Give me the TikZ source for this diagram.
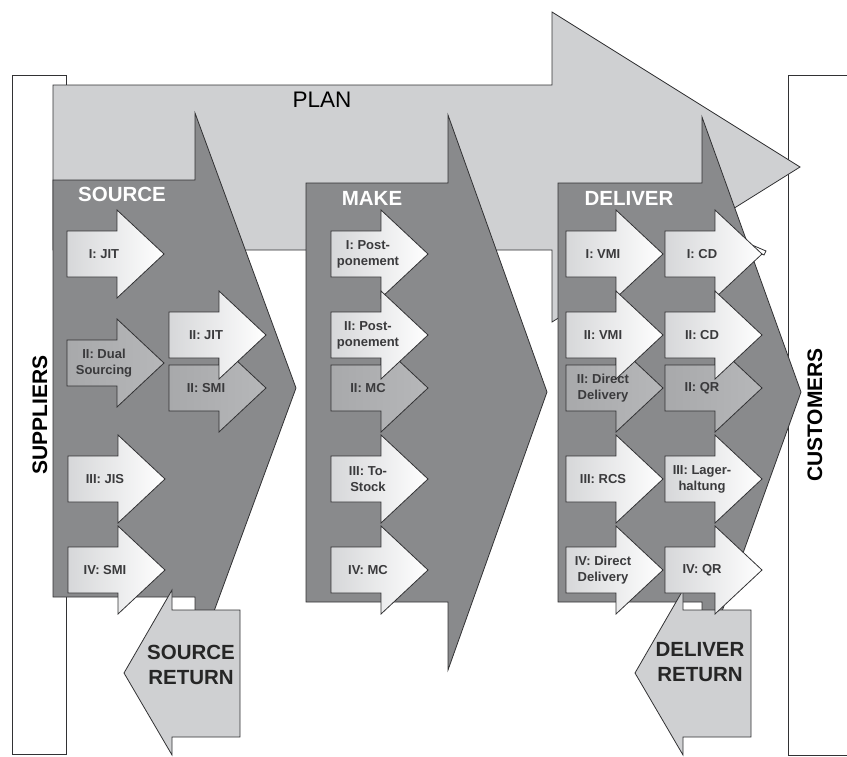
\documentclass[tikz,border=0pt]{standalone}
\usepackage{fontspec}
\setmainfont{Liberation Sans}
\usetikzlibrary{calc}

\definecolor{planfill}{RGB}{207,208,210}
\definecolor{procfill}{RGB}{137,138,140}
\definecolor{midfill}{RGB}{168,169,171}
\definecolor{midfillb}{RGB}{182,183,185}
\definecolor{lightfill}{RGB}{214,215,217}
\definecolor{edge}{RGB}{50,50,52}
\definecolor{labelcol}{RGB}{58,58,60}

\tikzset{
  outline/.style={draw=edge, line width=0.8pt, line join=miter},
  framebox/.style={draw=edge, line width=0.8pt, fill=white},
  planshape/.style={outline, fill=planfill},
  procshape/.style={outline, fill=procfill},
  returnshape/.style={outline, fill=planfill},
  whitearrow/.style={outline, left color=lightfill, right color=white},
  greyarrow/.style={outline, left color=midfill, right color=midfillb},
  arrowlabel/.style={font=\fontsize{13}{16}\selectfont\bfseries, text=labelcol, align=center, inner sep=0pt},
  proctitle/.style={font=\fontsize{20.5}{24}\selectfont\bfseries, text=white, inner sep=0pt},
  sidetitle/.style={font=\fontsize{21}{24}\selectfont\bfseries, text=black, rotate=90, inner sep=0pt},
  returntitle/.style={font=\fontsize{20.5}{25}\selectfont\bfseries, text=black!85, align=center, inner sep=0pt},
}

% Block arrow pointing right: #1 name, #2 left x, #3 centre y, #4 style, #5 label
\newcommand{\blockArrow}[5]{%
  \path[#4] (#2,#3-23) -- ++(50,0) -- ++(0,-21) -- (#2+97,#3) -- (#2+50,#3+44)
    -- ++(0,-21) -- (#2,#3+23) -- cycle;
  \node[arrowlabel] (#1) at (#2+37,#3) {#5};
}

% Return arrow pointing left: #1 name, #2 right x, #3 centre y
\newcommand{\returnArrow}[3]{%
  \path[returnshape] (#2,#3-63) -- (#2,#3+64) -- (#2-68,#3+64) -- (#2-68,#3+82)
    -- (#2-116,#3) -- (#2-68,#3-83) -- (#2-68,#3-63) -- cycle;
}

\begin{document}
\begin{tikzpicture}[x=1pt, y=-1pt]
\useasboundingbox (0,0) rectangle (847,756);

% supplier and customer frames
\path[framebox] (12,75) rectangle (66,754);
\path[framebox] (788,75) rectangle (870,755);
\node[sidetitle] (suppliers) at (40,415) {SUPPLIERS};
\node[sidetitle] (customers) at (815,415) {CUSTOMERS};

% PLAN
\path[planshape] (53,85) -- (552,85) -- (552,12) -- (800,167) -- (552,322)
  -- (552,250) -- (53,250) -- cycle;
\node[font=\fontsize{22.5}{26}\selectfont, inner sep=0pt] (plan) at (322,100) {PLAN};

% SOURCE, MAKE, DELIVER
\path[procshape] (53,180) -- (195,180) -- (195,113) -- (296,388) -- (195,663)
  -- (195,597) -- (53,597) -- cycle;
\path[procshape] (306,183) -- (448,183) -- (448,115) -- (547,392) -- (448,670)
  -- (448,602) -- (306,602) -- cycle;
\path[procshape] (558,183) -- (702,183) -- (702,117) -- (801,392) -- (702,667)
  -- (702,602) -- (558,602) -- cycle;
\node[proctitle] (source) at (122,194) {SOURCE};
\node[proctitle] (make) at (372,198) {MAKE};
\node[proctitle] (deliver) at (629,198) {DELIVER};

% return flows
\returnArrow{sreturn}{240}{673}
\node[returntitle] (sreturnlabel) at (191,665) {SOURCE\\RETURN};
\returnArrow{dreturn}{751}{673}
\node[returntitle] (dreturnlabel) at (700,662) {DELIVER\\RETURN};

% SOURCE options
\blockArrow{s1}{67}{254}{whitearrow}{I: JIT}
\blockArrow{s2}{67}{363}{greyarrow}{II: Dual\\Sourcing}
\blockArrow{s2b}{169}{388}{greyarrow}{II: SMI}
\blockArrow{s2a}{169}{335}{whitearrow}{II: JIT}
\blockArrow{s3}{68}{479}{whitearrow}{III: JIS}
\blockArrow{s4}{68}{570}{whitearrow}{IV: SMI}

% MAKE options
\blockArrow{m1}{331}{254}{whitearrow}{I: Post-\\ponement}
\blockArrow{m2b}{331}{388}{greyarrow}{II: MC}
\blockArrow{m2a}{331}{335}{whitearrow}{II: Post-\\ponement}
\blockArrow{m3}{331}{479}{whitearrow}{III: To-\\Stock}
\blockArrow{m4}{331}{570}{whitearrow}{IV: MC}

% DELIVER options
\blockArrow{d1}{566}{254}{whitearrow}{I: VMI}
\path[outline, fill=white] (717,230) -- (766,251) -- (764,255) -- (715,233) -- cycle;
\blockArrow{c1}{665}{254}{whitearrow}{I: CD}
\blockArrow{d2b}{566}{388}{greyarrow}{II: Direct\\Delivery}
\blockArrow{c2b}{665}{388}{greyarrow}{II: QR}
\blockArrow{d2a}{566}{335}{whitearrow}{II: VMI}
\blockArrow{c2a}{665}{335}{whitearrow}{II: CD}
\blockArrow{d3}{566}{479}{whitearrow}{III: RCS}
\blockArrow{c3}{665}{479}{whitearrow}{III: Lager-\\haltung}
\blockArrow{d4}{566}{570}{whitearrow}{IV: Direct\\Delivery}
\blockArrow{c4}{665}{570}{whitearrow}{IV: QR}

\end{tikzpicture}
\end{document}
